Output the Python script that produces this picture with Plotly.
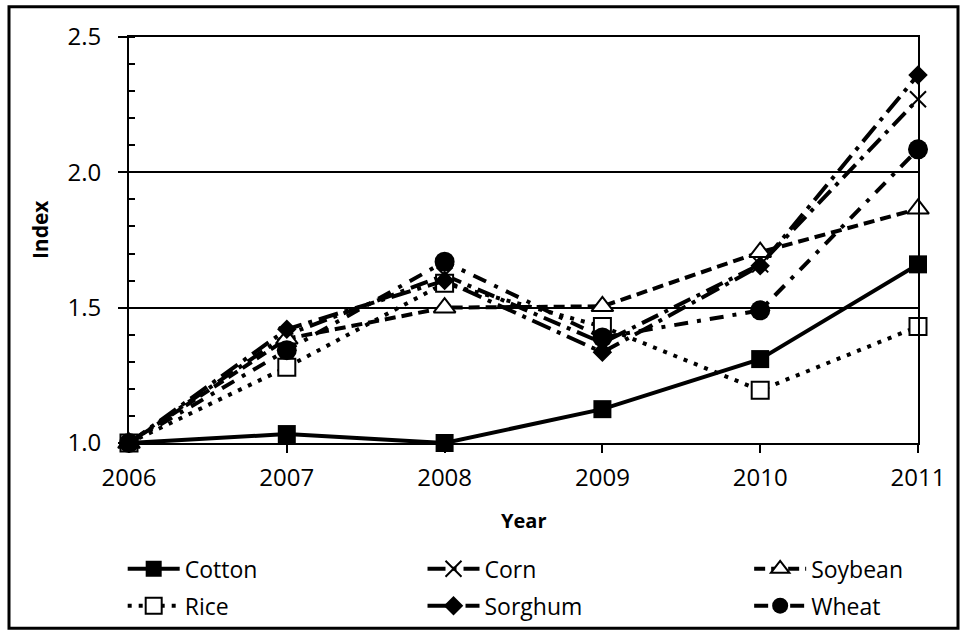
import plotly.graph_objects as go

years = [2006, 2007, 2008, 2009, 2010, 2011]
cotton = [1.00, 1.033, 1.00, 1.125, 1.31, 1.66]
corn = [1.00, 1.40, 1.62, 1.37, 1.66, 2.27]
soybean = [1.00, 1.385, 1.50, 1.505, 1.705, 1.865]
rice = [1.00, 1.28, 1.59, 1.43, 1.195, 1.43]
sorghum = [1.00, 1.42, 1.60, 1.335, 1.655, 2.36]
wheat = [1.00, 1.343, 1.67, 1.39, 1.49, 2.085]

FONT = "Open Sans"
BLK = "black"

fig = go.Figure()

series = [
    ("Cotton", cotton, "solid", dict(symbol="square", size=18, color=BLK), "legend"),
    ("Corn", corn, "18px,7px,4px,7px", dict(symbol="x-thin-open", size=16, color=BLK, line=dict(color=BLK, width=2)), "legend2"),
    ("Soybean", soybean, "11px,6px", dict(symbol="triangle-up", size=19, color="white", line=dict(color=BLK, width=2)), "legend3"),
    ("Rice", rice, "4px,7px", dict(symbol="square", size=17, color="white", line=dict(color=BLK, width=2)), "legend"),
    ("Sorghum", sorghum, "20px,7px,4px,7px", dict(symbol="diamond", size=15, color=BLK), "legend2"),
    ("Wheat", wheat, "14px,9px,4px,9px", dict(symbol="circle", size=20, color=BLK), "legend3"),
]

for name, vals, dash, marker, lg in series:
    fig.add_trace(go.Scatter(
        x=years, y=vals, name=name, mode="lines+markers",
        line=dict(color=BLK, width=4, dash=dash),
        marker=marker, cliponaxis=False, legend=lg,
        legendgroup=name,
    ))

legend_common = dict(font=dict(family=FONT, size=23, color=BLK), bgcolor="rgba(0,0,0,0)",
                     xanchor="left", yanchor="top", orientation="v", tracegroupgap=4,
                     itemwidth=52)
fig.update_layout(
    width=964, height=639,
    margin=dict(l=129, r=46, t=37, b=192),
    paper_bgcolor="white", plot_bgcolor="white",
    font=dict(family=FONT, size=23, color=BLK),
    legend=dict(x=-0.008, y=-0.257, **legend_common),
    legend2=dict(x=0.372, y=-0.257, **legend_common),
    legend3=dict(x=0.786, y=-0.257, **legend_common),
    xaxis=dict(range=[2006, 2011], tickmode="array", tickvals=years,
               ticktext=[str(y) for y in years], showgrid=False,
               showline=True, linecolor=BLK, linewidth=2, mirror=True,
               ticks="outside", ticklen=8, tickwidth=2, tickcolor=BLK,
               ticklabelstandoff=4,
               tickfont=dict(family=FONT, size=24, color=BLK), zeroline=False),
    yaxis=dict(range=[1.0, 2.5], tickmode="array", tickvals=[1.0, 1.5, 2.0, 2.5],
               ticktext=["1.0", "1.5", "2.0", "2.5"],
               showgrid=True, gridcolor=BLK, gridwidth=1.5,
               showline=True, linecolor=BLK, linewidth=2, mirror=True,
               ticks="outside", ticklen=9, tickwidth=2, tickcolor=BLK,
               ticklabelstandoff=12,
               tickfont=dict(family=FONT, size=24, color=BLK), zeroline=False,
               minor=dict(dtick=0.1, ticks="inside", ticklen=6, tickwidth=1.5,
                          tickcolor=BLK, showgrid=False)),
    annotations=[
        dict(text="<b>Index</b>", xref="paper", yref="paper",
             x=(40 - 129) / 789, y=(447 - 232) / 410, textangle=-90,
             showarrow=False, font=dict(family=FONT, size=21, color=BLK),
             xanchor="center", yanchor="middle"),
        dict(text="<b>Year</b>", xref="paper", yref="paper",
             x=0.5, y=(447 - 525) / 410, showarrow=False,
             font=dict(family=FONT, size=20, color=BLK),
             xanchor="center", yanchor="middle"),
    ],
    shapes=[
        dict(type="rect", xref="paper", yref="paper",
             x0=(9 - 129) / 789, x1=(958 - 129) / 789,
             y0=(447 - 634) / 410, y1=(447 - 6.5) / 410,
             line=dict(color=BLK, width=3), fillcolor="rgba(0,0,0,0)", layer="below"),
    ],
)

fig.write_html(
    "out.html",
    config={"displayModeBar": False},
    post_script="document.documentElement.style.margin='0';document.body.style.margin='0';"
                "document.documentElement.style.overflow='hidden';document.body.style.overflow='hidden';",
)
